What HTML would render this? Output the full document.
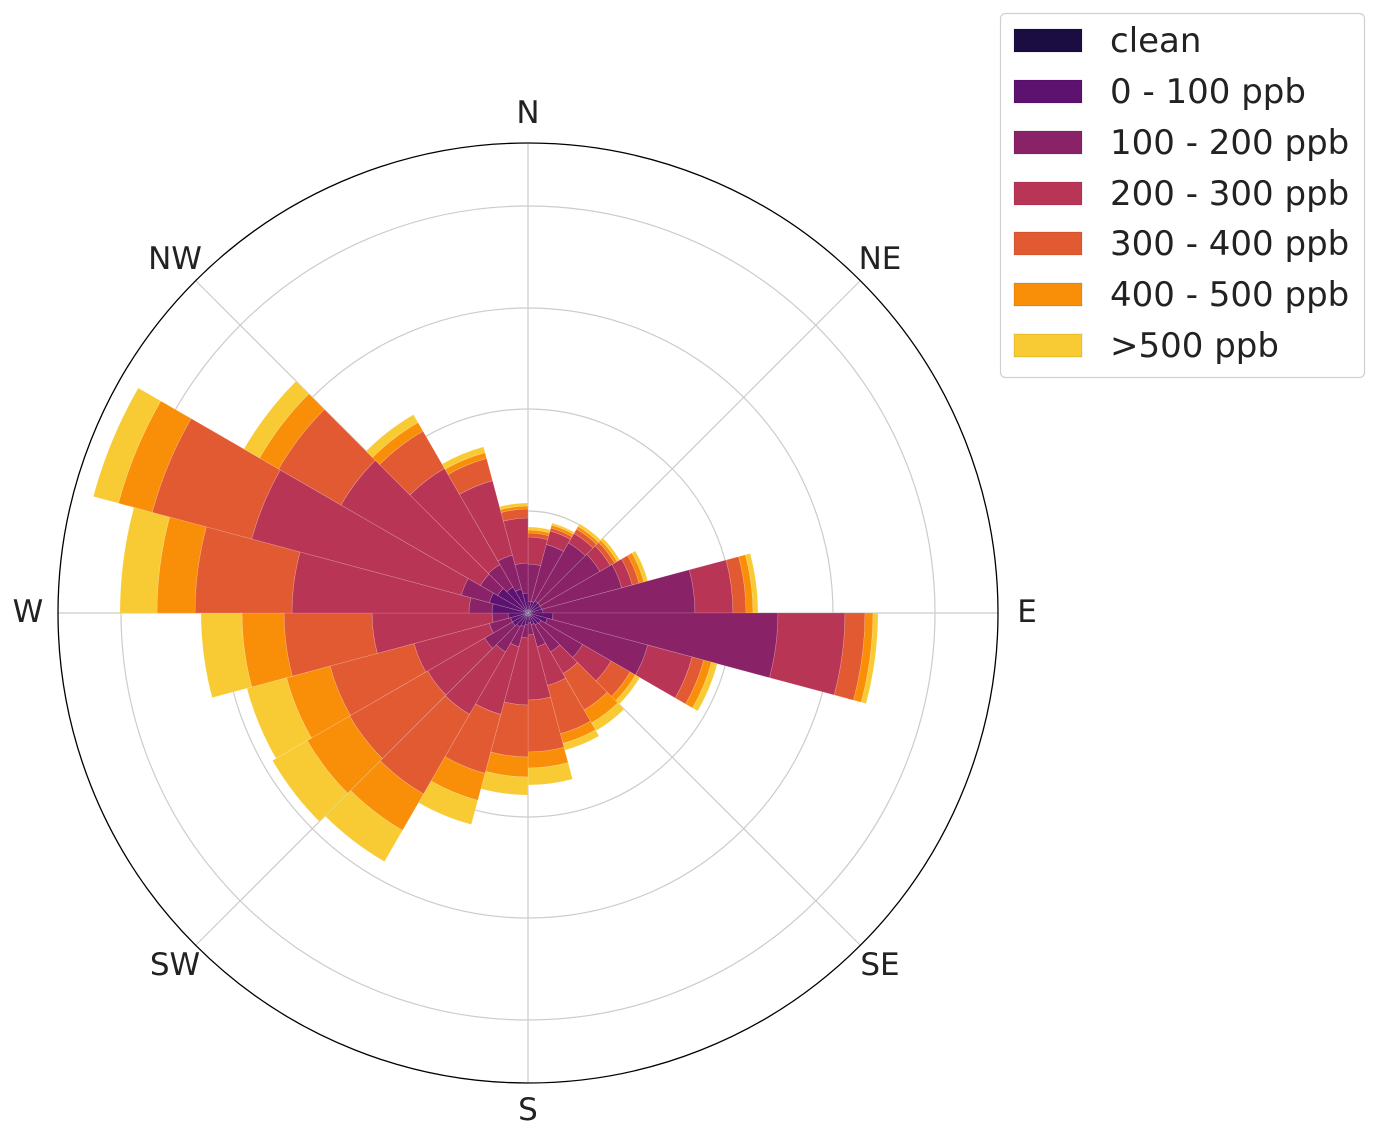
<!DOCTYPE html>
<html><head><meta charset="utf-8"><style>
html,body{margin:0;padding:0;background:#fff;}
svg{display:block;font-family:"DejaVu Sans","Liberation Sans",sans-serif;}
</style></head><body>
<svg id="s" width="1378" height="1141" viewBox="0 0 1378 1141" xmlns="http://www.w3.org/2000/svg">
<g id="grid" stroke="#cccccc" stroke-width="1.2" fill="none">
<circle cx="528" cy="613" r="102"/><circle cx="528" cy="613" r="204"/>
<circle cx="528" cy="613" r="305"/><circle cx="528" cy="613" r="407"/>
<line x1="528" y1="143" x2="528" y2="1083"/><line x1="58" y1="613" x2="998" y2="613"/>
<line x1="196" y1="281" x2="860" y2="945"/><line x1="860" y1="281" x2="196" y2="945"/>
</g>
<g id="bars"></g>
<circle cx="528" cy="613" r="470" fill="none" stroke="#000" stroke-width="1.3"/>
<g font-size="31" fill="#222" text-anchor="middle" dominant-baseline="central">
<text x="528" y="113">N</text><text x="880" y="259">NE</text><text x="1027" y="612">E</text>
<text x="880" y="965">SE</text><text x="528" y="1110">S</text><text x="175" y="965">SW</text>
<text x="28" y="612">W</text><text x="175" y="259">NW</text>
</g>
<rect x="1000.5" y="13.5" width="364" height="364" rx="5" fill="#fff" stroke="#d0d0d0" stroke-width="1.2"/>
<g stroke="rgba(0,0,0,0.15)" stroke-width="0.8">
<rect x="1014" y="29" width="68" height="23" fill="#1b0c41"/>
<rect x="1014" y="80" width="68" height="23" fill="#5c126e"/>
<rect x="1014" y="131" width="68" height="23" fill="#8a2267"/>
<rect x="1014" y="182" width="68" height="23" fill="#b93556"/>
<rect x="1014" y="232" width="68" height="23" fill="#e25a31"/>
<rect x="1014" y="283" width="68" height="23" fill="#f98e09"/>
<rect x="1014" y="334" width="68" height="23" fill="#f8cb34"/>
</g>
<g font-size="34" fill="#222" dominant-baseline="central">
<text x="1110" y="41">clean</text><text x="1110" y="92">0 - 100 ppb</text>
<text x="1110" y="143">100 - 200 ppb</text><text x="1110" y="194">200 - 300 ppb</text>
<text x="1110" y="244">300 - 400 ppb</text><text x="1110" y="295">400 - 500 ppb</text>
<text x="1110" y="346">&gt;500 ppb</text>
</g>
</svg>
<script>
var cx=528,cy=613;
var cols=["#1b0c41","#5c126e","#8a2267","#b93556","#e25a31","#f98e09","#f8cb34"];
var d=[
[3,12,49,76,80,83,86],[3,12,71,85,88,91,93],[3,14,81,92,97,100,103],[3,14,83,95,100,103,106],
[3,14,97,108,115,120,124],[3,15,167,205,218,225,230],[4,25,250,317,337,345,350],[3,20,124,170,182,190,196],
[3,15,63,96,118,124,129],[3,14,45,70,112,127,136],[3,12,35,75,125,135,142],[3,10,22,87,139,155,172],
[3,12,25,92,144,164,182],[3,14,35,105,166,194,219],[3,16,45,117,209,251,287],[3,18,50,116,206,255,295],
[3,18,40,118,205,250,291],[3,20,36,156,244,286,327],[3,36,59,236,333,371,408],[3,40,69,286,389,424,450],
[3,35,55,216,288,310,328],[3,30,56,167,210,220,229],[3,25,60,137,160,166,172],[3,20,50,95,104,107,110]];
function p(r,a){a=a*Math.PI/180;return (cx+r*Math.sin(a)).toFixed(2)+","+(cy-r*Math.cos(a)).toFixed(2);}
var h="";
for(var i=0;i<24;i++){var a1=i*15,a2=a1+15,prev=0;
 for(var k=0;k<7;k++){var ri=prev,ro=d[i][k];if(ro<=ri){continue;}
  var path="M"+p(ri,a1)+" L"+p(ro,a1)+" A"+ro+","+ro+" 0 0 1 "+p(ro,a2)+" L"+p(ri,a2)+(ri>0?" A"+ri+","+ri+" 0 0 0 "+p(ri,a1):"")+" Z";
  h+='<path d="'+path+'" fill="'+cols[k]+'" stroke="rgba(255,255,255,0.25)" stroke-width="0.6"/>';
  prev=ro;}
}
document.getElementById("bars").innerHTML=h;
</script>
</body></html>
